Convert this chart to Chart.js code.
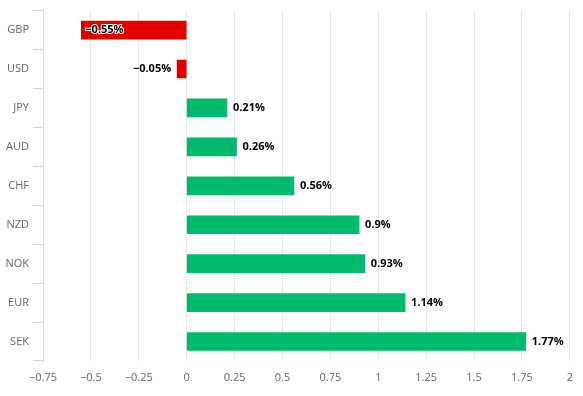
<!DOCTYPE html>
<html>
<head>
<meta charset="utf-8">
<script src="https://cdn.jsdelivr.net/npm/chart.js@4/dist/chart.umd.min.js"></script>
<style>
  html, body { margin: 0; padding: 0; background: #ffffff; }
  #wrap { width: 583px; height: 396px; position: relative; }
</style>
</head>
<body>
<div id="wrap"><canvas id="c" width="583" height="396"></canvas></div>
<script>
const categories = ['GBP', 'USD', 'JPY', 'AUD', 'CHF', 'NZD', 'NOK', 'EUR', 'SEK'];
const values = [-0.55, -0.05, 0.21, 0.26, 0.56, 0.9, 0.93, 1.14, 1.77];
const valueLabels = ['\u22120.55%', '\u22120.05%', '0.21%', '0.26%', '0.56%', '0.9%', '0.93%', '1.14%', '1.77%'];
const xMin = -0.75, xMax = 2, xStep = 0.25;

const RED = '#e10000', GREEN = '#00bb6b';
const FONT = "'Open Sans', 'DejaVu Sans', sans-serif";

const labelPlugin = {
  id: 'valueLabels',
  afterDatasetsDraw(chart) {
    const ctx = chart.ctx;
    const meta = chart.getDatasetMeta(0);
    const area = chart.chartArea;
    ctx.save();
    ctx.font = 'bold 11px ' + FONT;
    ctx.textBaseline = 'middle';
    ctx.lineJoin = 'round';
    meta.data.forEach((bar, i) => {
      const txt = valueLabels[i];
      const w = ctx.measureText(txt).width;
      const v = values[i];
      let x, align;
      if (v >= 0) {
        x = bar.x + 6; align = 'left';
      } else {
        x = bar.x - 6; align = 'right';
        if (x - w < area.left) { x = bar.x + 4; align = 'left'; }
      }
      ctx.textAlign = align;
      ctx.strokeStyle = '#ffffff';
      ctx.lineWidth = 2;
      ctx.strokeText(txt, x, bar.y);
      ctx.fillStyle = '#000000';
      ctx.fillText(txt, x, bar.y);
    });
    ctx.restore();
  }
};

new Chart(document.getElementById('c'), {
  type: 'bar',
  data: {
    labels: categories,
    datasets: [{
      data: values,
      backgroundColor: values.map(v => v < 0 ? RED : GREEN),
      borderWidth: 0,
      barThickness: 18
    }]
  },
  options: {
    indexAxis: 'y',
    responsive: false,
    animation: false,
    layout: { padding: { top: 8, right: 13, left: 0, bottom: 0 } },
    plugins: { legend: { display: false }, tooltip: { enabled: false } },
    scales: {
      x: {
        min: xMin, max: xMax,
        ticks: {
          stepSize: xStep,
          color: '#666666',
          font: { family: FONT, size: 11 },
          padding: 10,
          callback: v => (v < 0 ? '\u2212' + Math.abs(v) : String(v))
        },
        grid: { color: '#e6e6e6', drawTicks: false, lineWidth: 1 },
        border: { display: false },
        afterFit(s) { s.height = 35; }
      },
      y: {
        ticks: {
          color: '#666666',
          font: { family: FONT, size: 11 },
          padding: 4
        },
        grid: { offset: true, drawOnChartArea: false, drawTicks: true, tickLength: 10, color: '#ccd6eb' },
        border: { color: '#ccd6eb' },
        afterFit(s) { s.width = 43; }
      }
    }
  },
  plugins: [labelPlugin]
});
</script>
</body>
</html>
